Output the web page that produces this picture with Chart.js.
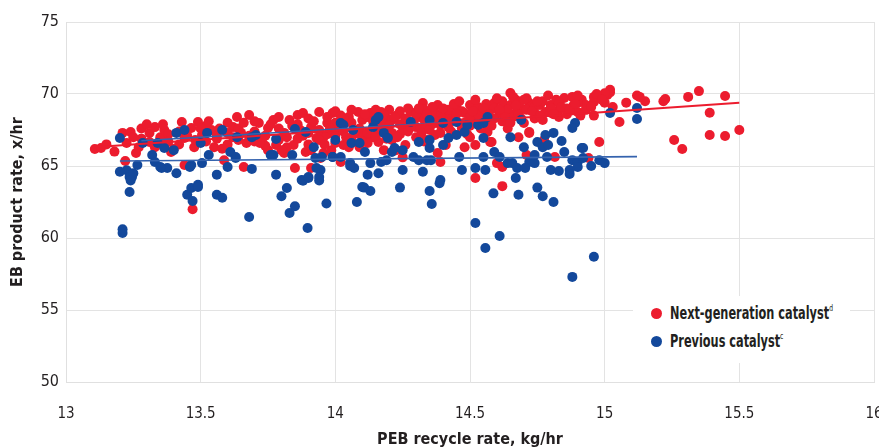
<!DOCTYPE html>
<html>
<head>
<meta charset="utf-8">
<script src="https://cdn.jsdelivr.net/npm/chart.js@4.4.1/dist/chart.umd.min.js"></script>
<style>
  html, body { margin: 0; padding: 0; background: #fff; }
  #wrap { position: relative; width: 879px; height: 448px; }
  #legend {
    position: absolute; left: 633px; top: 296px; width: 217px; height: 67px;
    background: #fff; font-family: "DejaVu Sans Condensed", "Liberation Sans Narrow", sans-serif;
    font-weight: bold; font-size: 17px; color: #231f20;
  }
  .item { position: absolute; left: 18px; white-space: nowrap; }
  .dot { position: absolute; left: 0; top: 5px; width: 11px; height: 11px; border-radius: 50%; }
  .txt { position: absolute; left: 19px; top: 0; transform: scaleX(0.74); transform-origin: 0 0; }
  sup { font-size: 9px; vertical-align: 8px; font-weight: normal; }
</style>
</head>
<body>
<div id="wrap">
  <canvas id="c" width="879" height="448"></canvas>
  <div id="legend">
    <div class="item" style="top:7px"><span class="dot" style="background:#ec1c2e"></span><span class="txt">Next-generation catalyst<sup>d</sup></span></div>
    <div class="item" style="top:35px"><span class="dot" style="background:#13489b"></span><span class="txt">Previous catalyst<sup>c</sup></span></div>
  </div>
</div>
<script>
const xTicks = [13, 13.5, 14, 14.5, 15, 15.5, 16];
const yTicks = [50, 55, 60, 65, 70, 75];
const seriesNames = ["Next-generation catalyst", "Previous catalyst"];
const xTitle = "PEB recycle rate, kg/hr";
const yTitle = "EB product rate, x/hr";

const redPoints = [
[13.107,66.18],[13.13,66.25],[13.22,65.35],[13.21,67.3],[13.24,67.36],[13.225,66.6],[13.26,65.9],[13.31,67.3],[13.31,66.67],[13.35,67.0],
[13.365,67.5],[13.36,66.46],[13.39,65.97],[13.43,68.05],[13.44,66.94],[13.44,65.07],[13.465,67.64],[13.476,66.3],[13.49,68.05],[13.505,67.15],
[13.54,67.5],[13.55,66.3],[13.587,65.4],[13.62,67.7],[13.635,68.4],[13.68,68.54],[13.65,67.3],[13.67,66.6],[13.66,64.93],[13.716,67.98],
[13.73,66.94],[13.75,67.64],[13.77,68.2],[13.78,66.46],[13.81,67.3],[13.83,68.2],[13.845,66.46],[13.86,68.54],[13.85,64.86],[13.87,67.5],
[13.81,65.9],[13.75,66.1],[13.47,62.0],
[13.88,68.68],[13.91,67.7],[13.94,68.75],[13.956,67.0],[13.97,67.98],[13.99,68.68],[14.01,67.5],[14.03,66.46],[14.05,68.4],[14.066,67.5],
[14.085,68.75],[14.1,68.2],[14.11,66.94],[14.13,68.68],[14.15,67.85],[14.17,68.75],[14.19,68.33],[14.2,68.9],[14.21,67.3],[14.23,68.54],
[14.25,67.7],[14.26,66.46],[14.28,68.75],[14.29,68.05],[14.31,68.4],[14.325,69.38],[14.33,67.7],[14.35,68.4],[14.37,68.68],[14.38,69.24],
[14.39,67.85],[14.4,68.75],[14.42,68.4],[14.45,69.1],[14.46,67.98],[14.48,68.68],[14.5,69.24],[14.52,68.2],[14.535,68.9],[14.55,68.4],
[14.57,69.0],[14.59,69.38],[14.61,68.68],[14.63,69.0],[14.65,70.07],[14.65,69.24],[14.67,68.68],[14.67,69.6],
[13.91,66.1],[13.93,66.94],[13.956,65.9],[13.985,66.1],[14.0,66.6],[14.05,66.3],[14.09,66.3],[14.14,67.0],[14.16,66.67],[14.18,66.1],
[14.225,66.1],[14.25,65.6],[14.3,67.0],[14.34,66.8],[14.37,67.15],[14.38,65.9],[14.39,65.28],[14.41,66.46],[14.48,66.3],[14.5,67.0],
[14.52,66.46],[14.565,67.36],[14.575,66.67],[14.62,64.93],[14.52,64.17],[13.91,64.86],[14.02,65.28],[13.945,65.55],[13.89,65.97],
[14.58,66.67],[14.68,67.0],[14.72,67.3],[14.6,65.2],[14.62,63.6],
[14.69,69.0],[14.72,69.38],[14.74,68.68],[14.76,69.24],[14.78,68.75],[14.8,69.24],[14.82,69.6],[14.83,68.9],[14.85,69.72],[14.88,69.8],
[14.885,69.24],[14.9,68.75],[14.915,69.6],[14.93,69.24],[14.96,69.45],[15.02,70.3],[15.01,69.93],[14.7,67.98],[14.72,67.36],[14.71,65.76],
[14.815,65.62],[14.775,66.8],[14.94,65.55],
[15.258,66.8],[15.288,66.18],[15.39,67.15],[15.447,67.08],[15.5,67.5],[15.39,68.7],[15.447,69.86],[15.35,70.2],[15.31,69.8],[15.225,69.65],
[15.218,69.5],[15.15,69.5],[15.12,69.9],[15.13,69.8],[15.055,68.05],[14.98,66.67],[15.02,70.1],[15.0,70.05],[15.08,69.4],[15.03,69.1],
[13.28,66.9],[13.28,67.6],[13.33,67.7],[13.33,66.3],[13.38,67.2],[13.38,66.7],[13.42,67.4],[13.42,66.5],[13.52,66.7],[13.52,67.8],
[13.56,67.1],[13.56,66.9],[13.6,67.3],[13.6,66.5],[13.6,68.0],[13.64,66.8],[13.64,67.6],[13.7,67.4],[13.7,66.7],[13.7,68.1],
[13.74,67.1],[13.74,66.4],[13.79,67.6],[13.79,66.8],[13.79,68.4],[13.82,67.0],[13.82,66.3],[13.86,67.9],[13.86,66.9],[13.9,67.3],
[13.9,68.3],[13.9,66.5],[13.94,67.5],[13.94,66.8],[13.97,68.4],[13.97,67.2],[14.0,68.0],[14.0,67.1],[14.0,68.8],[14.03,67.4],
[14.03,68.3],[14.06,66.9],[14.06,68.0],[14.06,68.9],[14.09,67.6],[14.09,67.2],[14.12,68.4],[14.12,67.3],[14.12,66.6],[14.15,68.9],
[14.15,67.1],[14.18,67.9],[14.18,68.6],[14.18,67.4],[14.21,68.2],[14.21,66.8],[14.24,67.9],[14.24,68.8],[14.24,67.2],[14.27,68.1],
[14.27,67.4],[14.27,69.0],[14.3,68.6],[14.3,67.7],[14.33,68.2],[14.33,68.9],[14.33,66.7],[14.36,67.9],[14.36,69.1],[14.39,68.5],
[14.39,67.3],[14.42,68.9],[14.42,67.7],[14.44,68.2],[14.44,69.3],[14.47,67.6],[14.47,68.8],[14.5,68.4],[14.5,67.8],[14.53,69.1],
[14.53,68.6],[14.56,69.3],[14.56,67.9],[14.59,68.3],[14.59,69.0],[14.62,69.5],[14.62,68.1],[14.64,68.9],[14.64,67.6],[14.66,69.8],
[14.66,68.4],[14.68,69.4],[14.68,68.6],[14.71,68.9],[14.71,69.7],[14.74,69.1],[14.74,68.3],[14.77,69.5],[14.77,68.2],[14.8,68.7],
[14.8,69.0],[14.83,69.4],[14.83,68.4],[14.86,69.0],[14.86,68.6],[14.9,69.4],[14.9,69.9],[14.93,68.9],[14.96,69.8],[14.96,68.5],[15.0,69.4],
[13.15,66.5],[13.18,66.0],[13.25,67.0],[13.27,66.3],[13.3,67.9],[13.36,67.9],[13.4,66.2],[13.45,67.1],[13.48,66.8],[13.5,67.6],
[13.53,68.1],[13.57,67.6],[13.58,66.2],[13.62,67.0],[13.66,68.0],[13.68,67.1],[13.72,66.6],[13.76,67.9],[13.8,66.1],[13.84,67.8],
[13.88,67.1],[13.92,68.1],[13.96,66.5],[13.98,67.6],[14.02,68.5],[14.04,67.0],[14.07,67.3],[14.1,66.7],[14.11,68.6],[14.14,68.1],
[14.16,67.6],[14.19,66.9],[14.2,67.8],[14.22,68.4],[14.23,67.0],[14.26,68.3],[14.28,67.7],[14.31,69.0],[14.32,67.3],[14.34,68.6],
[14.35,67.5],[14.37,68.2],[14.4,69.0],[14.41,68.0],[14.43,67.4],[14.45,68.6],[14.46,69.5],[14.48,68.0],[14.49,67.2],[14.51,68.8],
[14.52,69.6],[14.54,67.6],[14.55,69.0],[14.57,68.6],[14.58,67.8],[14.6,69.7],[14.61,68.9],[14.63,68.4],[14.65,68.0],[14.67,69.2],
[14.69,68.3],[14.7,69.6],[14.73,68.8],[14.75,69.5],[14.76,68.5],[14.79,69.9],[14.81,68.6],[14.84,69.1],[14.87,68.9],[14.89,69.3],
[14.91,68.5],[14.95,69.1],[14.97,70.0],[14.99,69.6]
];

const bluePoints = [
[13.2,66.94],[13.285,66.6],[13.32,65.76],[13.34,66.6],[13.33,65.28],[13.365,66.25],[13.4,66.1],[13.41,67.3],[13.44,67.5],[13.5,66.6],
[13.524,67.3],[13.53,65.76],[13.58,67.5],[13.61,65.97],[13.63,65.55],[13.635,67.0],[13.69,67.0],[13.705,67.15],[13.225,64.7],[13.245,64.24],
[13.265,65.07],[13.355,64.86],[13.376,64.86],[13.41,64.5],[13.465,65.07],[13.505,65.2],[13.56,64.4],[13.6,64.93],[13.69,64.8],[13.77,65.76],
[13.78,64.4],[13.84,65.76],[13.875,64.03],[13.85,67.57],[13.78,66.87],[13.49,63.7],[13.2,64.6],[13.236,64.24],[13.25,64.5],[13.236,63.2],
[13.21,60.35],[13.21,60.6],[13.45,63.0],[13.465,63.47],[13.49,63.55],[13.47,62.57],[13.56,63.0],[13.58,62.8],[13.68,61.46],[13.8,62.9],
[13.82,63.47],[13.83,61.74],[13.85,62.2],[13.24,64.0],
[13.897,60.7],[13.967,62.4],[14.08,62.5],[14.107,63.5],[14.13,63.27],[14.24,63.5],[14.35,63.27],[14.358,62.36],[14.387,63.8],[13.94,64.0],
[14.52,61.04],[14.557,59.3],[14.61,60.14],[14.587,63.1],[14.68,63.0],[14.75,63.5],[14.77,62.9],[14.81,62.5],[14.96,58.7],[14.88,57.3],
[13.89,67.36],[13.92,66.3],[13.926,65.55],[13.95,65.62],[13.945,64.72],[13.94,64.24],[13.9,64.17],[14.0,66.8],[13.99,65.62],[14.02,65.62],
[14.02,67.98],[14.03,67.85],[14.06,66.6],[14.066,67.5],[14.09,66.6],[14.11,65.97],[14.055,65.2],[14.07,64.86],[14.12,64.4],[14.13,65.2],
[14.14,67.7],[14.15,68.2],[14.16,68.4],[14.18,67.3],[14.195,66.94],[14.17,65.28],[14.19,65.4],[14.21,65.97],[14.22,66.25],[14.25,66.1],
[14.25,64.72],[14.28,68.05],[14.29,65.62],[14.31,65.4],[14.31,66.67],[14.34,65.4],[14.35,66.25],[14.35,66.8],[14.35,68.2],[14.355,65.4],
[14.325,64.6],[14.39,64.03],[14.4,67.98],[14.4,66.46],[14.42,66.94],[14.45,67.15],[14.45,68.05],[14.48,67.36],[14.49,67.85],[14.46,65.62],
[14.47,64.72],[14.52,64.86],[14.55,65.62],[14.55,66.94],[14.53,67.85],[14.55,67.98],[14.565,68.4],[14.557,64.72],[14.59,65.97],[14.61,65.62],
[14.64,65.2],[14.657,65.2],[14.65,67.0],[14.675,64.86],[14.67,64.17],
[14.69,68.2],[14.89,67.98],[14.88,67.64],[15.02,68.68],[15.12,69.03],[15.12,68.26],[14.78,67.15],[14.81,67.3],[14.84,66.74],[14.75,66.67],
[14.77,66.3],[14.79,66.46],[14.7,66.3],[14.74,65.76],[14.786,65.62],[14.72,65.28],[14.74,65.2],[14.705,64.86],[14.85,65.97],[14.88,65.4],
[14.9,65.28],[14.915,66.25],[14.92,65.55],[14.9,64.93],[14.87,64.72],[14.8,64.72],[14.83,64.65],[14.87,64.44],[14.95,65.0],[14.98,65.4],
[15.0,65.2],[14.92,66.25],
[13.35,64.93],[13.46,64.93],[13.63,65.62],[13.76,65.76],[13.88,63.97],[13.9,64.24],[13.93,64.86],[13.99,65.62],[14.055,65.0],[14.1,63.54],[14.16,64.5]
];

const redTrend = [[13.1, 66.3], [15.5, 69.4]];
const blueTrendLow = [[13.2, 65.35], [15.12, 65.65]];
const blueTrendHigh = [[13.28, 66.75], [14.65, 68.3]];

const RED = '#ec1c2e', BLUE = '#13489b';
const FONT = "'DejaVu Sans Condensed', 'Liberation Sans Narrow', sans-serif";
const toXY = arr => arr.map(p => ({x: p[0], y: p[1]}));

new Chart(document.getElementById('c'), {
  type: 'scatter',
  data: {
    datasets: [
      { type: 'line', data: toXY(redTrend), borderColor: RED, borderWidth: 2, pointRadius: 0, fill: false, order: 0 },
      { type: 'line', data: toXY(blueTrendLow), borderColor: '#3563ae', borderWidth: 1.6, pointRadius: 0, fill: false, order: 0 },
      { type: 'line', data: toXY(blueTrendHigh), borderColor: '#3563ae', borderWidth: 1.6, pointRadius: 0, fill: false, order: 0 },
      { label: seriesNames[1], data: toXY(bluePoints), backgroundColor: BLUE, borderWidth: 0, pointRadius: 5, order: 1 },
      { label: seriesNames[0], data: toXY(redPoints), backgroundColor: RED, borderWidth: 0, pointRadius: 5, order: 2 }
    ]
  },
  options: {
    responsive: false,
    animation: false,
    layout: { padding: { top: 22, right: 1, left: 0, bottom: 0 } },
    plugins: { legend: { display: false }, tooltip: { enabled: false } },
    scales: {
      x: {
        type: 'linear', min: xTicks[0], max: xTicks[xTicks.length - 1],
        afterBuildTicks: s => { s.ticks = xTicks.map(v => ({value: v})); },
        ticks: { color: '#231f20', font: { family: FONT, size: 15 }, padding: 23, maxRotation: 0, callback: v => String(v) },
        grid: { color: '#e3e3e3', lineWidth: 1, drawTicks: false },
        border: { color: '#e0e0e0' },
        title: { display: true, text: xTitle, color: '#231f20', font: { family: FONT, size: 16, weight: 'bold', lineHeight: 1 }, padding: 0 },
        afterFit: s => { s.height = 66; s.paddingLeft = 0; s.paddingRight = 0; }
      },
      y: {
        type: 'linear', min: yTicks[0], max: yTicks[yTicks.length - 1],
        afterBuildTicks: s => { s.ticks = yTicks.map(v => ({value: v})); },
        ticks: { color: '#231f20', font: { family: FONT, size: 16 }, padding: 7, callback: v => String(v) },
        grid: { color: '#e3e3e3', lineWidth: 1, drawTicks: false },
        border: { color: '#e0e0e0' },
        title: { display: true, text: yTitle, color: '#231f20', font: { family: FONT, size: 16, weight: 'bold', lineHeight: 1.2 }, padding: { top: 8, bottom: 0 } },
        afterFit: s => { s.width = 66; s.paddingTop = 0; s.paddingBottom = 0; }
      }
    }
  }
});
</script>
</body>
</html>
